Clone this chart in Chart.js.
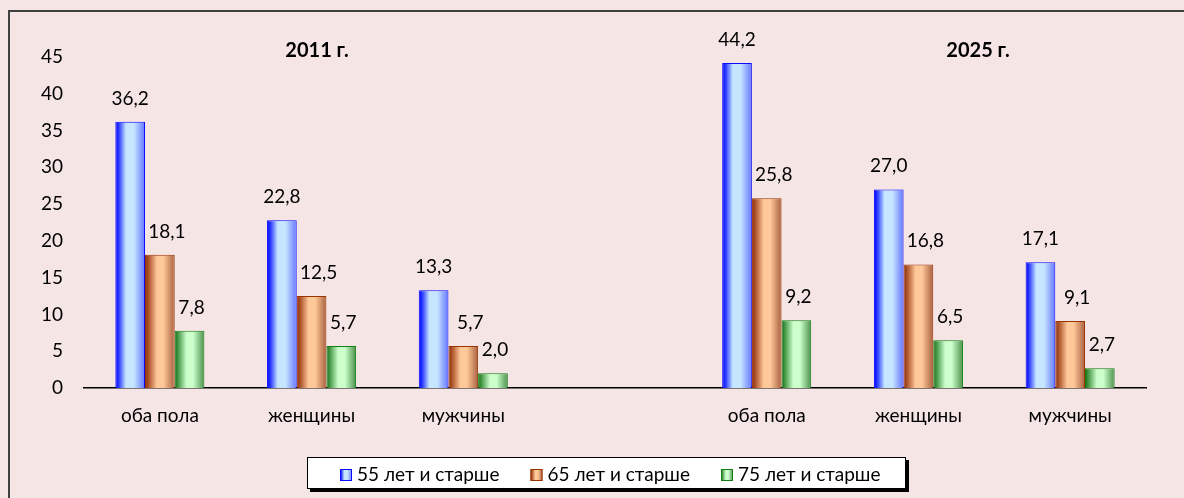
<!DOCTYPE html>
<html><head><meta charset="utf-8">
<script src="https://cdn.jsdelivr.net/npm/chart.js@4.4.1/dist/chart.umd.min.js"></script>
<style>
html,body{margin:0;padding:0;background:#F6E5E5;overflow:hidden;}
#wrap{position:relative;width:1184px;height:498px;}
canvas{display:block;}
</style>
</head><body>
<div id="wrap"><canvas id="c" width="1184" height="498"></canvas></div>
<script>
// ---- data ----
const categories = ['оба пола', 'женщины', 'мужчины', '', 'оба пола', 'женщины', 'мужчины'];
const seriesNames = ['55 лет и старше', '65 лет и старше', '75 лет и старше'];
const s55 = [36.2, 22.8, 13.3, null, 44.2, 27.0, 17.1];
const s65 = [18.1, 12.5, 5.7, null, 25.8, 16.8, 9.1];
const s75 = [7.8, 5.7, 2.0, null, 9.2, 6.5, 2.7];
const yMin = 0, yMax = 45, yStep = 5;
const periodTitles = ['2011 г.', '2025 г.'];

// ---- styles ----
const FONT = 'Lato, "Open Sans", sans-serif';
const palettes = [
  {border: '#0A0AFF', stops: [[0, '#0000FF'], [0.12, '#2A3CFF'], [0.36, '#C6E6FF'], [0.62, '#C6E6FF'], [1, '#6476FF']], mid: '#A0B8FF'},
  {border: '#993300', stops: [[0, '#8A2A08'], [0.16, '#B86238'], [0.40, '#FFC898'], [0.62, '#FFC898'], [1, '#A86040']], mid: '#F0A070'},
  {border: '#108010', stops: [[0, '#146A14'], [0.16, '#5AA85A'], [0.40, '#CCFFCC'], [0.62, '#CCFFCC'], [1, '#4A904A']], mid: '#90D890'}
];
const labelDx = [0, 7, 2];

function makeGrad(ctx, x0, x1, stops) {
  const g = ctx.createLinearGradient(x0, 0, x1, 0);
  stops.forEach(s => g.addColorStop(s[0], s[1]));
  return g;
}

const fmt = v => v.toFixed(1).replace('.', ',');

const decorPlugin = {
  id: 'decor',
  beforeDraw(chart) {
    const ctx = chart.ctx;
    ctx.save();
    ctx.fillStyle = '#F6E5E5';
    ctx.fillRect(0, 0, chart.width, chart.height);
    ctx.strokeStyle = '#404040';
    ctx.lineWidth = 2;
    ctx.beginPath();
    ctx.moveTo(9, chart.height + 5);
    ctx.lineTo(9, 11);
    ctx.lineTo(chart.width + 5, 11);
    ctx.stroke();
    ctx.restore();
  },
  beforeDatasetsDraw(chart) {
    const ctx = chart.ctx;
    chart.data.datasets.forEach((ds, di) => {
      const meta = chart.getDatasetMeta(di);
      meta.data.forEach(el => {
        const p = el.getProps(['x', 'width'], true);
        const g = makeGrad(ctx, p.x - p.width / 2, p.x + p.width / 2, palettes[di].stops);
        el.options = Object.assign({}, el.options, {backgroundColor: g});
      });
    });
  },
  afterDatasetsDraw(chart) {
    const ctx = chart.ctx;
    ctx.save();
    ctx.font = '19px ' + FONT;
    ctx.fillStyle = '#000';
    ctx.textAlign = 'center';
    ctx.textBaseline = 'alphabetic';
    chart.data.datasets.forEach((ds, di) => {
      const meta = chart.getDatasetMeta(di);
      meta.data.forEach((el, i) => {
        const v = ds.data[i];
        if (v === null || v === undefined) return;
        const p = el.getProps(['x', 'y'], true);
        ctx.fillText(fmt(v), p.x + labelDx[di], p.y - 17);
      });
    });
    // period titles
    const ca = chart.chartArea;
    ctx.font = 'bold 20px ' + FONT;
    ctx.textBaseline = 'middle';
    const tx = [0.2194, 0.8418];
    periodTitles.forEach((t, k) => {
      ctx.fillText(t, ca.left + (ca.right - ca.left) * tx[k], 51);
    });
    ctx.restore();
  },
  afterDraw(chart) {
    const ctx = chart.ctx;
    ctx.save();
    const bx = 307, by = 457, bw = 599, bh = 32;
    ctx.fillStyle = '#000';
    ctx.fillRect(bx + 3, by + 3, bw, bh);
    ctx.fillStyle = '#fff';
    ctx.fillRect(bx, by, bw, bh);
    ctx.strokeStyle = '#000';
    ctx.lineWidth = 1;
    ctx.strokeRect(bx + 0.5, by + 0.5, bw - 1, bh - 1);
    ctx.font = '19px ' + FONT;
    ctx.textBaseline = 'alphabetic';
    ctx.textAlign = 'left';
    const sq = 12, gap = 5, itemGap = 31;
    const widths = chart.data.datasets.map(d => ctx.measureText(d.label).width);
    let x = bx + 33;
    chart.data.datasets.forEach((d, di) => {
      const g = makeGrad(ctx, x, x + sq, palettes[di].stops);
      ctx.fillStyle = g;
      ctx.fillRect(x, 469, sq, sq);
      ctx.strokeStyle = palettes[di].border;
      ctx.lineWidth = 1;
      ctx.strokeRect(x + 0.5, 469.5, sq - 1, sq - 1);
      ctx.fillStyle = '#000';
      ctx.fillText(d.label, x + sq + gap, 481);
      x += sq + gap + widths[di] + itemGap;
    });
    ctx.restore();
  }
};

const mkDs = (k, data) => ({
  label: seriesNames[k],
  data: data,
  backgroundColor: palettes[k].mid,
  borderColor: palettes[k].border,
  borderWidth: 1,
  borderSkipped: 'start',
  barPercentage: 1.0,
  categoryPercentage: 0.587
});

new Chart(document.getElementById('c'), {
  type: 'bar',
  data: {
    labels: categories,
    datasets: [mkDs(0, s55), mkDs(1, s65), mkDs(2, s75)]
  },
  options: {
    responsive: false,
    animation: false,
    events: [],
    layout: {padding: {left: 0, right: 38, top: 57, bottom: 70}},
    plugins: {legend: {display: false}, tooltip: {enabled: false}, title: {display: false}},
    scales: {
      x: {
        grid: {display: false, drawTicks: false},
        border: {display: true, color: '#000', width: 1.5},
        ticks: {color: '#000', font: {family: FONT, size: 19}, padding: 16, autoSkip: false, maxRotation: 0},
        afterFit(s) { s.height = 40; }
      },
      y: {
        min: yMin, max: yMax,
        grid: {display: false, drawTicks: false},
        border: {display: false},
        ticks: {stepSize: yStep, color: '#000', font: {family: FONT, size: 19}, padding: 21},
        afterFit(s) { s.width = 84; }
      }
    }
  },
  plugins: [decorPlugin]
});
</script>
</body></html>
